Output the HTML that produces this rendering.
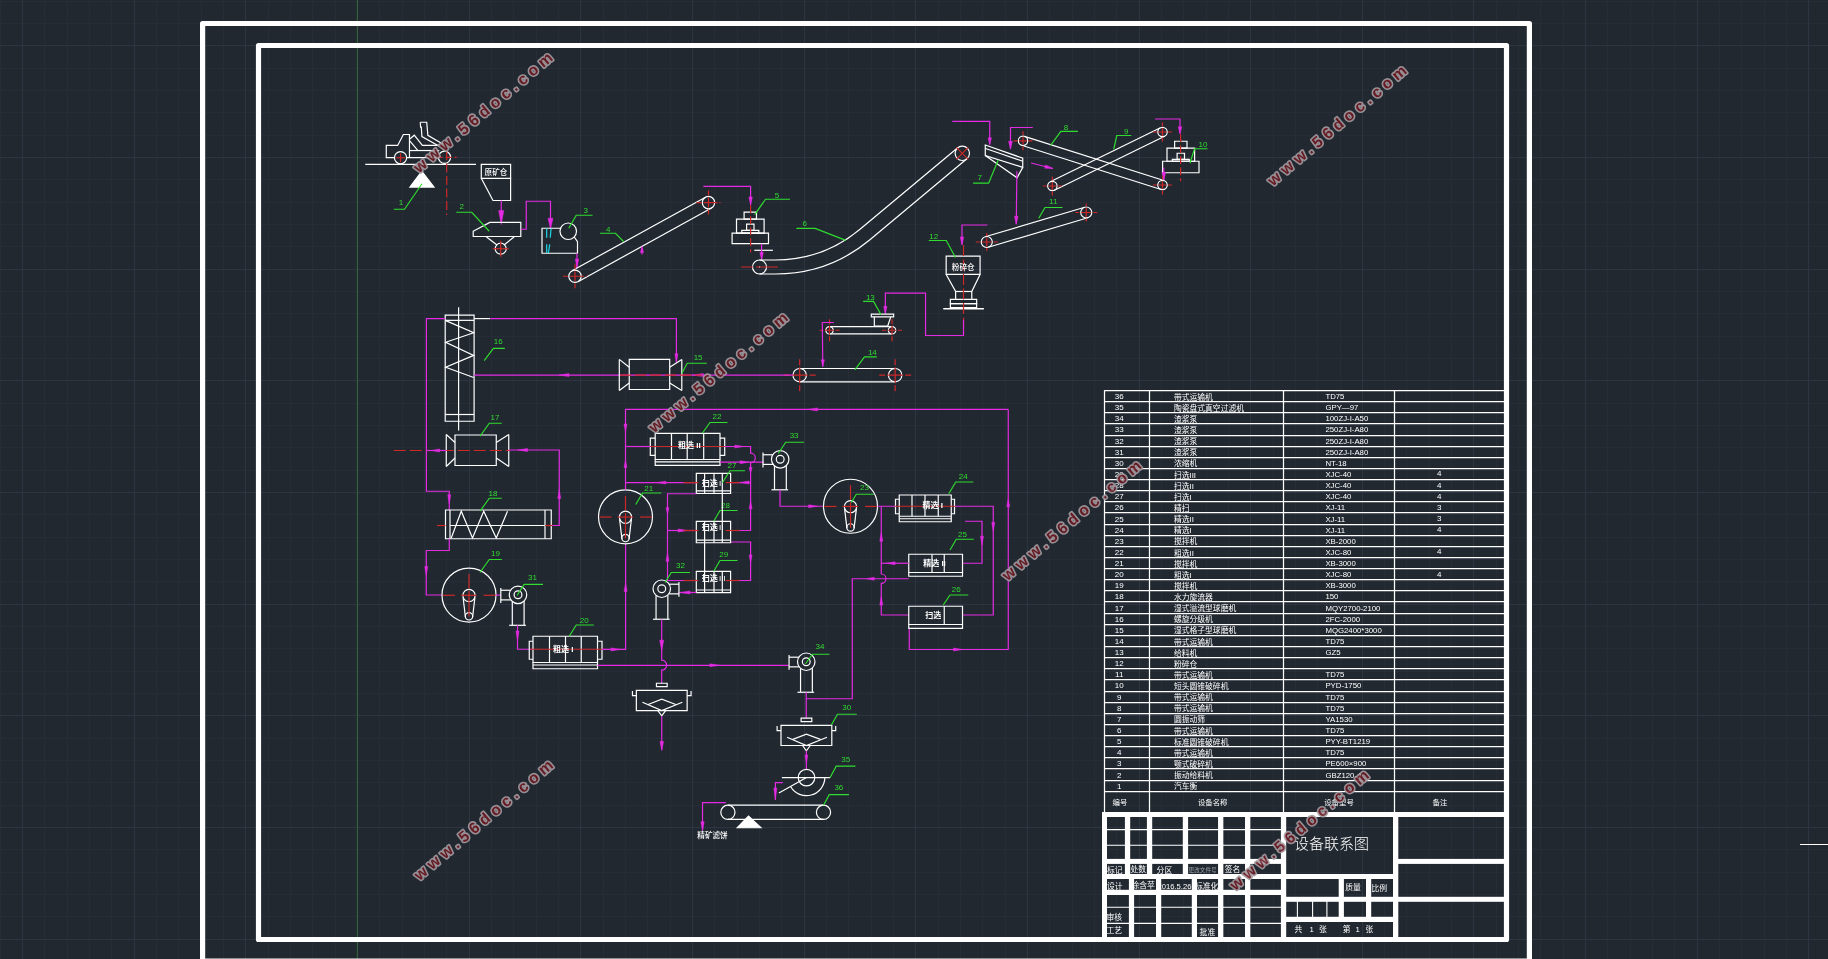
<!DOCTYPE html>
<html lang="zh"><head><meta charset="utf-8"><title>设备联系图</title>
<style>
html,body{margin:0;padding:0;background:#212830;overflow:hidden}
svg{display:block;will-change:transform}
svg text{font-family:"Liberation Sans","Noto Sans CJK SC",sans-serif}
.fl{font-weight:500}
.flb{font-weight:700}
svg path,svg circle{stroke-linecap:butt}
.wm{opacity:.9;font-weight:bold;letter-spacing:4.65px;paint-order:stroke;stroke:#a39ba1;stroke-width:3.2px;stroke-linejoin:round;fill:#6e1a22}
</style></head><body>
<svg width="1828" height="959" viewBox="0 0 1828 959">
<rect width="1828" height="959" fill="#212830"/>
<!-- grid -->
<path d="M0.5 0V959M44.5 0V959M67.5 0V959M89.5 0V959M111.5 0V959M156.5 0V959M178.5 0V959M201.5 0V959M223.5 0V959M268.5 0V959M290.5 0V959M312.5 0V959M335.5 0V959M379.5 0V959M402.5 0V959M424.5 0V959M446.5 0V959M491.5 0V959M513.5 0V959M536.5 0V959M558.5 0V959M603.5 0V959M625.5 0V959M647.5 0V959M670.5 0V959M714.5 0V959M737.5 0V959M759.5 0V959M781.5 0V959M826.5 0V959M848.5 0V959M871.5 0V959M893.5 0V959M938.5 0V959M960.5 0V959M982.5 0V959M1005.5 0V959M1049.5 0V959M1072.5 0V959M1094.5 0V959M1116.5 0V959M1161.5 0V959M1183.5 0V959M1206.5 0V959M1228.5 0V959M1273.5 0V959M1295.5 0V959M1317.5 0V959M1340.5 0V959M1384.5 0V959M1406.5 0V959M1429.5 0V959M1451.5 0V959M1496.5 0V959M1518.5 0V959M1540.5 0V959M1563.5 0V959M1607.5 0V959M1630.5 0V959M1652.5 0V959M1674.5 0V959M1719.5 0V959M1741.5 0V959M1764.5 0V959M1786.5 0V959M0 1.5H1828M0 23.5H1828M0 68.5H1828M0 90.5H1828M0 112.5H1828M0 135.5H1828M0 179.5H1828M0 202.5H1828M0 224.5H1828M0 246.5H1828M0 291.5H1828M0 313.5H1828M0 336.5H1828M0 358.5H1828M0 403.5H1828M0 425.5H1828M0 447.5H1828M0 470.5H1828M0 514.5H1828M0 537.5H1828M0 559.5H1828M0 581.5H1828M0 626.5H1828M0 648.5H1828M0 671.5H1828M0 693.5H1828M0 738.5H1828M0 760.5H1828M0 782.5H1828M0 805.5H1828M0 849.5H1828M0 872.5H1828M0 894.5H1828M0 916.5H1828" stroke="#262d38" fill="none" shape-rendering="crispEdges"/>
<path d="M22.5 0V959M134.5 0V959M245.5 0V959M357.5 0V959M469.5 0V959M580.5 0V959M692.5 0V959M804.5 0V959M915.5 0V959M1027.5 0V959M1139.5 0V959M1250.5 0V959M1362.5 0V959M1473.5 0V959M1585.5 0V959M1697.5 0V959M1808.5 0V959M0 45.5H1828M0 157.5H1828M0 269.5H1828M0 380.5H1828M0 492.5H1828M0 604.5H1828M0 715.5H1828M0 827.5H1828M0 939.5H1828" stroke="#2e3542" fill="none" shape-rendering="crispEdges"/>
<path d="M356.5 0V959" stroke="#1c3627" fill="none" shape-rendering="crispEdges"/><path d="M357.5 0V959" stroke="#3a5c45" fill="none" shape-rendering="crispEdges"/>
<path d="M1800 844.5 L1828 844.5" stroke="#ffffff" fill="none"/>
<!-- frames -->
<rect x="202.6" y="23.5" width="1326.8" height="937.5" fill="none" stroke="#fff" stroke-width="5.2" stroke-linejoin="round"/>
<rect x="258.5" y="45.5" width="1248" height="894" fill="none" stroke="#fff" stroke-width="5.2" stroke-linejoin="round"/>
<!-- equipment table -->
<path d="M1104.25 390.5H1504M1104.25 401.5H1504M1104.25 412.5H1504M1104.25 423.5H1504M1104.25 435.5H1504M1104.25 446.5H1504M1104.25 457.5H1504M1104.25 468.5H1504M1104.25 479.5H1504M1104.25 490.5H1504M1104.25 501.5H1504M1104.25 512.5H1504M1104.25 524.5H1504M1104.25 535.5H1504M1104.25 546.5H1504M1104.25 557.5H1504M1104.25 568.5H1504M1104.25 579.5H1504M1104.25 590.5H1504M1104.25 601.5H1504M1104.25 613.5H1504M1104.25 624.5H1504M1104.25 635.5H1504M1104.25 646.5H1504M1104.25 657.5H1504M1104.25 668.5H1504M1104.25 679.5H1504M1104.25 691.5H1504M1104.25 702.5H1504M1104.25 713.5H1504M1104.25 724.5H1504M1104.25 735.5H1504M1104.25 746.5H1504M1104.25 757.5H1504M1104.25 768.5H1504M1104.25 780.5H1504M1104.25 791.5H1504M1104.5 390.5V813M1149.5 390.5V813M1283.5 390.5V813M1394.5 390.5V813" stroke="#fff" fill="none" stroke-width="1.25"/>
<text x="1119.2" y="399.1" font-size="8" fill="#ffffff" text-anchor="middle">36</text>
<text x="1173.9" y="399.7" font-size="7.8" fill="#ffffff">带式运输机</text>
<text x="1325.4" y="399.1" font-size="7.8" fill="#ffffff">TD75</text>
<text x="1119.2" y="410.23" font-size="8" fill="#ffffff" text-anchor="middle">35</text>
<text x="1173.9" y="410.83" font-size="7.8" fill="#ffffff">陶瓷盘式真空过滤机</text>
<text x="1325.4" y="410.23" font-size="7.8" fill="#ffffff">GPY—97</text>
<text x="1119.2" y="421.36" font-size="8" fill="#ffffff" text-anchor="middle">34</text>
<text x="1173.9" y="421.96" font-size="7.8" fill="#ffffff">渣浆泵</text>
<text x="1325.4" y="421.36" font-size="7.8" fill="#ffffff">100ZJ-I-A50</text>
<text x="1119.2" y="432.49" font-size="8" fill="#ffffff" text-anchor="middle">33</text>
<text x="1173.9" y="433.09" font-size="7.8" fill="#ffffff">渣浆泵</text>
<text x="1325.4" y="432.49" font-size="7.8" fill="#ffffff">250ZJ-I-A80</text>
<text x="1119.2" y="443.62" font-size="8" fill="#ffffff" text-anchor="middle">32</text>
<text x="1173.9" y="444.22" font-size="7.8" fill="#ffffff">渣浆泵</text>
<text x="1325.4" y="443.62" font-size="7.8" fill="#ffffff">250ZJ-I-A80</text>
<text x="1119.2" y="454.75" font-size="8" fill="#ffffff" text-anchor="middle">31</text>
<text x="1173.9" y="455.35" font-size="7.8" fill="#ffffff">渣浆泵</text>
<text x="1325.4" y="454.75" font-size="7.8" fill="#ffffff">250ZJ-I-A80</text>
<text x="1119.2" y="465.88" font-size="8" fill="#ffffff" text-anchor="middle">30</text>
<text x="1173.9" y="466.48" font-size="7.8" fill="#ffffff">浓缩机</text>
<text x="1325.4" y="465.88" font-size="7.8" fill="#ffffff">NT-18</text>
<text x="1119.2" y="477.01" font-size="8" fill="#ffffff" text-anchor="middle">29</text>
<text x="1173.9" y="477.61" font-size="7.8" fill="#ffffff">扫选III</text>
<text x="1325.4" y="477.01" font-size="7.8" fill="#ffffff">XJC-40</text>
<text x="1439.3" y="476.41" font-size="8" fill="#ffffff" text-anchor="middle">4</text>
<text x="1119.2" y="488.14" font-size="8" fill="#ffffff" text-anchor="middle">28</text>
<text x="1173.9" y="488.74" font-size="7.8" fill="#ffffff">扫选II</text>
<text x="1325.4" y="488.14" font-size="7.8" fill="#ffffff">XJC-40</text>
<text x="1439.3" y="487.54" font-size="8" fill="#ffffff" text-anchor="middle">4</text>
<text x="1119.2" y="499.27" font-size="8" fill="#ffffff" text-anchor="middle">27</text>
<text x="1173.9" y="499.87" font-size="7.8" fill="#ffffff">扫选I</text>
<text x="1325.4" y="499.27" font-size="7.8" fill="#ffffff">XJC-40</text>
<text x="1439.3" y="498.67" font-size="8" fill="#ffffff" text-anchor="middle">4</text>
<text x="1119.2" y="510.4" font-size="8" fill="#ffffff" text-anchor="middle">26</text>
<text x="1173.9" y="511" font-size="7.8" fill="#ffffff">精扫</text>
<text x="1325.4" y="510.4" font-size="7.8" fill="#ffffff">XJ-11</text>
<text x="1439.3" y="509.8" font-size="8" fill="#ffffff" text-anchor="middle">3</text>
<text x="1119.2" y="521.53" font-size="8" fill="#ffffff" text-anchor="middle">25</text>
<text x="1173.9" y="522.13" font-size="7.8" fill="#ffffff">精选II</text>
<text x="1325.4" y="521.53" font-size="7.8" fill="#ffffff">XJ-11</text>
<text x="1439.3" y="520.93" font-size="8" fill="#ffffff" text-anchor="middle">3</text>
<text x="1119.2" y="532.66" font-size="8" fill="#ffffff" text-anchor="middle">24</text>
<text x="1173.9" y="533.26" font-size="7.8" fill="#ffffff">精选I</text>
<text x="1325.4" y="532.66" font-size="7.8" fill="#ffffff">XJ-11</text>
<text x="1439.3" y="532.06" font-size="8" fill="#ffffff" text-anchor="middle">4</text>
<text x="1119.2" y="543.79" font-size="8" fill="#ffffff" text-anchor="middle">23</text>
<text x="1173.9" y="544.39" font-size="7.8" fill="#ffffff">搅拌机</text>
<text x="1325.4" y="543.79" font-size="7.8" fill="#ffffff">XB-2000</text>
<text x="1119.2" y="554.92" font-size="8" fill="#ffffff" text-anchor="middle">22</text>
<text x="1173.9" y="555.52" font-size="7.8" fill="#ffffff">粗选II</text>
<text x="1325.4" y="554.92" font-size="7.8" fill="#ffffff">XJC-80</text>
<text x="1439.3" y="554.32" font-size="8" fill="#ffffff" text-anchor="middle">4</text>
<text x="1119.2" y="566.05" font-size="8" fill="#ffffff" text-anchor="middle">21</text>
<text x="1173.9" y="566.65" font-size="7.8" fill="#ffffff">搅拌机</text>
<text x="1325.4" y="566.05" font-size="7.8" fill="#ffffff">XB-3000</text>
<text x="1119.2" y="577.18" font-size="8" fill="#ffffff" text-anchor="middle">20</text>
<text x="1173.9" y="577.78" font-size="7.8" fill="#ffffff">粗选I</text>
<text x="1325.4" y="577.18" font-size="7.8" fill="#ffffff">XJC-80</text>
<text x="1439.3" y="576.58" font-size="8" fill="#ffffff" text-anchor="middle">4</text>
<text x="1119.2" y="588.31" font-size="8" fill="#ffffff" text-anchor="middle">19</text>
<text x="1173.9" y="588.91" font-size="7.8" fill="#ffffff">搅拌机</text>
<text x="1325.4" y="588.31" font-size="7.8" fill="#ffffff">XB-3000</text>
<text x="1119.2" y="599.44" font-size="8" fill="#ffffff" text-anchor="middle">18</text>
<text x="1173.9" y="600.04" font-size="7.8" fill="#ffffff">水力旋流器</text>
<text x="1325.4" y="599.44" font-size="7.8" fill="#ffffff">150</text>
<text x="1119.2" y="610.57" font-size="8" fill="#ffffff" text-anchor="middle">17</text>
<text x="1173.9" y="611.17" font-size="7.8" fill="#ffffff">湿式溢流型球磨机</text>
<text x="1325.4" y="610.57" font-size="7.8" fill="#ffffff">MQY2700-2100</text>
<text x="1119.2" y="621.7" font-size="8" fill="#ffffff" text-anchor="middle">16</text>
<text x="1173.9" y="622.3" font-size="7.8" fill="#ffffff">螺旋分级机</text>
<text x="1325.4" y="621.7" font-size="7.8" fill="#ffffff">2FC-2000</text>
<text x="1119.2" y="632.83" font-size="8" fill="#ffffff" text-anchor="middle">15</text>
<text x="1173.9" y="633.43" font-size="7.8" fill="#ffffff">湿式格子型球磨机</text>
<text x="1325.4" y="632.83" font-size="7.8" fill="#ffffff">MQG2400*3000</text>
<text x="1119.2" y="643.96" font-size="8" fill="#ffffff" text-anchor="middle">14</text>
<text x="1173.9" y="644.56" font-size="7.8" fill="#ffffff">带式运输机</text>
<text x="1325.4" y="643.96" font-size="7.8" fill="#ffffff">TD75</text>
<text x="1119.2" y="655.09" font-size="8" fill="#ffffff" text-anchor="middle">13</text>
<text x="1173.9" y="655.69" font-size="7.8" fill="#ffffff">给料机</text>
<text x="1325.4" y="655.09" font-size="7.8" fill="#ffffff">GZ5</text>
<text x="1119.2" y="666.22" font-size="8" fill="#ffffff" text-anchor="middle">12</text>
<text x="1173.9" y="666.82" font-size="7.8" fill="#ffffff">粉碎仓</text>
<text x="1119.2" y="677.35" font-size="8" fill="#ffffff" text-anchor="middle">11</text>
<text x="1173.9" y="677.95" font-size="7.8" fill="#ffffff">带式运输机</text>
<text x="1325.4" y="677.35" font-size="7.8" fill="#ffffff">TD75</text>
<text x="1119.2" y="688.48" font-size="8" fill="#ffffff" text-anchor="middle">10</text>
<text x="1173.9" y="689.08" font-size="7.8" fill="#ffffff">短头圆锥破碎机</text>
<text x="1325.4" y="688.48" font-size="7.8" fill="#ffffff">PYD-1750</text>
<text x="1119.2" y="699.61" font-size="8" fill="#ffffff" text-anchor="middle">9</text>
<text x="1173.9" y="700.21" font-size="7.8" fill="#ffffff">带式运输机</text>
<text x="1325.4" y="699.61" font-size="7.8" fill="#ffffff">TD75</text>
<text x="1119.2" y="710.74" font-size="8" fill="#ffffff" text-anchor="middle">8</text>
<text x="1173.9" y="711.34" font-size="7.8" fill="#ffffff">带式运输机</text>
<text x="1325.4" y="710.74" font-size="7.8" fill="#ffffff">TD75</text>
<text x="1119.2" y="721.87" font-size="8" fill="#ffffff" text-anchor="middle">7</text>
<text x="1173.9" y="722.47" font-size="7.8" fill="#ffffff">圆振动筛</text>
<text x="1325.4" y="721.87" font-size="7.8" fill="#ffffff">YA1530</text>
<text x="1119.2" y="733" font-size="8" fill="#ffffff" text-anchor="middle">6</text>
<text x="1173.9" y="733.6" font-size="7.8" fill="#ffffff">带式运输机</text>
<text x="1325.4" y="733" font-size="7.8" fill="#ffffff">TD75</text>
<text x="1119.2" y="744.13" font-size="8" fill="#ffffff" text-anchor="middle">5</text>
<text x="1173.9" y="744.73" font-size="7.8" fill="#ffffff">标准圆锥破碎机</text>
<text x="1325.4" y="744.13" font-size="7.8" fill="#ffffff">PYY-BT1219</text>
<text x="1119.2" y="755.26" font-size="8" fill="#ffffff" text-anchor="middle">4</text>
<text x="1173.9" y="755.86" font-size="7.8" fill="#ffffff">带式运输机</text>
<text x="1325.4" y="755.26" font-size="7.8" fill="#ffffff">TD75</text>
<text x="1119.2" y="766.39" font-size="8" fill="#ffffff" text-anchor="middle">3</text>
<text x="1173.9" y="766.99" font-size="7.8" fill="#ffffff">颚式破碎机</text>
<text x="1325.4" y="766.39" font-size="7.8" fill="#ffffff">PE600×900</text>
<text x="1119.2" y="777.52" font-size="8" fill="#ffffff" text-anchor="middle">2</text>
<text x="1173.9" y="778.12" font-size="7.8" fill="#ffffff">振动给料机</text>
<text x="1325.4" y="777.52" font-size="7.8" fill="#ffffff">GBZ120-4</text>
<text x="1119.2" y="788.65" font-size="8" fill="#ffffff" text-anchor="middle">1</text>
<text x="1173.9" y="789.25" font-size="7.8" fill="#ffffff">汽车衡</text>
<text x="1120" y="804.8" font-size="7.4" fill="#ffffff" text-anchor="middle">编号</text>
<text x="1212.7" y="804.8" font-size="7.4" fill="#ffffff" text-anchor="middle">设备名称</text>
<text x="1339" y="804.8" font-size="7.4" fill="#ffffff" text-anchor="middle">设备型号</text>
<text x="1440" y="804.8" font-size="7.4" fill="#ffffff" text-anchor="middle">备注</text>
<!-- title block -->
<text x="1107" y="872.6" font-size="7.8" fill="#ffffff">标记</text>
<text x="1130.4" y="872.2" font-size="7.8" fill="#ffffff">处数</text>
<text x="1156.6" y="873" font-size="7.8" fill="#ffffff">分区</text>
<text x="1188.6" y="872" font-size="5.6" fill="#9aa0a8">更改文件号</text>
<text x="1224.8" y="872" font-size="7.8" fill="#ffffff">签名</text>
<text x="1107" y="889.3" font-size="7.8" fill="#ffffff">设计</text>
<text x="1131.4" y="888.4" font-size="7.8" fill="#ffffff">徐含苹</text>
<text x="1157.6" y="888.6" font-size="7.6" fill="#ffffff">2016.5.26</text>
<text x="1195" y="889" font-size="7.8" fill="#ffffff">标准化</text>
<text x="1106.4" y="919.8" font-size="7.8" fill="#ffffff">审核</text>
<text x="1106.4" y="933.2" font-size="7.8" fill="#ffffff">工艺</text>
<text x="1199.6" y="935.2" font-size="7.8" fill="#ffffff">批准</text>
<text x="1345.2" y="890" font-size="7.8" fill="#ffffff">质量</text>
<text x="1371.4" y="891" font-size="7.8" fill="#ffffff">比例</text>
<text x="1294.6" y="931.8" font-size="7.8" fill="#ffffff">共</text>
<text x="1309.4" y="931.8" font-size="7.8" fill="#ffffff">1</text>
<text x="1319" y="931.8" font-size="7.8" fill="#ffffff">张</text>
<text x="1342.8" y="931.8" font-size="7.8" fill="#ffffff">第</text>
<text x="1355.4" y="931.8" font-size="7.8" fill="#ffffff">1</text>
<text x="1365.6" y="931.8" font-size="7.8" fill="#ffffff">张</text>
<text x="1294" y="849" font-size="15" fill="#fff" font-weight="300" style="font-family:'Noto Sans CJK SC',sans-serif">设备联系图</text>
<path d="M1104 829.6H1283M1104 845.2H1283M1104 907.3H1283M1104 923.4H1283M1297.4 899V919M1312.6 899V919M1326.9 899V919" stroke="#fff" fill="none" stroke-width="1.1"/>
<rect x="1102" y="812" width="407" height="5" fill="#fff"/>
<rect x="1102" y="858.9" width="184" height="5" fill="#fff"/>
<rect x="1102" y="874" width="296" height="5" fill="#fff"/>
<rect x="1102" y="889.8" width="184" height="5.2" fill="#fff"/>
<rect x="1286" y="896.8" width="223" height="5" fill="#fff"/>
<rect x="1286" y="916.8" width="112" height="5.2" fill="#fff"/>
<rect x="1396" y="858.9" width="113" height="5" fill="#fff"/>
<rect x="1102" y="812" width="5" height="130" fill="#fff"/>
<rect x="1124.9" y="812" width="5.3" height="67" fill="#fff"/>
<rect x="1146.9" y="812" width="5.3" height="67" fill="#fff"/>
<rect x="1182.8" y="812" width="5.3" height="67" fill="#fff"/>
<rect x="1128.9" y="874" width="5.2" height="68" fill="#fff"/>
<rect x="1156" y="874" width="5.2" height="68" fill="#fff"/>
<rect x="1191.8" y="874" width="5.2" height="68" fill="#fff"/>
<rect x="1218.05" y="812" width="5.3" height="130" fill="#fff"/>
<rect x="1245" y="812" width="5.3" height="130" fill="#fff"/>
<rect x="1280.9" y="812" width="5.3" height="130" fill="#fff"/>
<rect x="1393" y="812" width="5.3" height="130" fill="#fff"/>
<rect x="1338.7" y="874" width="5.2" height="48" fill="#fff"/>
<rect x="1366" y="874" width="5.2" height="48" fill="#fff"/>
<g stroke-width="1.2">
<!-- flow top row -->
<path d="M365.25 164.47 L476.02 164.47" stroke="#ffffff" fill="none"/>
<path d="M394.59 157.72 L386.27 157.72 L386.27 145.46 L397.65 145.46 L403.35 134.52 L409.47 134.52 L409.47 157.72" stroke="#ffffff" fill="none"/>
<path d="M406.67 157.72 L438.37 157.72" stroke="#ffffff" fill="none"/>
<path d="M409.47 150.54 L439.25 150.54" stroke="#ffffff" fill="none"/>
<path d="M409.47 139.33 L414.29 135.22 L422.35 145.46 L441.44 145.46" stroke="#ffffff" fill="none"/>
<path d="M409.74 140.82 L417.97 150.54" stroke="#ffffff" fill="none"/>
<path d="M420.25 122.26 L426.73 122.26 L427.86 135.39 L443.19 144.33" stroke="#ffffff" fill="none"/>
<path d="M420.25 122.26 L420.6 127.08 L421.3 127.08 L421.91 136.53 L439.25 146.34" stroke="#ffffff" fill="none"/>
<circle cx="400.54" cy="157.72" r="6.1" stroke="#ffffff" fill="none"/>
<circle cx="444.5" cy="157.29" r="6.1" stroke="#ffffff" fill="none"/>
<path d="M396.04 157.72 L405.04 157.72" stroke="#cc2828" fill="none"/>
<path d="M400.54 153.22 L400.54 162.22" stroke="#cc2828" fill="none"/>
<path d="M436.69 157.29 L456.69 157.29" stroke="#cc2828" fill="none" stroke-dasharray="6 3"/>
<path d="M446.7 151 L446.7 215" stroke="#cc2828" fill="none" stroke-dasharray="9 3.5"/>
<path d="M421.73 171.3 L409.91 187.06 L433.99 187.06Z" stroke="#ffffff" fill="#ffffff"/>
<path d="M422 183.75 L404.5 209.25 L393.75 209.25" stroke="#2fdc2f" fill="none"/>
<text x="401" y="205" font-size="8" fill="#2fdc2f" text-anchor="middle">1</text>
<path d="M481.28 164.47 L510.61 164.47 L510.61 178.3 L481.28 178.3Z" stroke="#ffffff" fill="none"/>
<path d="M481.28 178.3 L493 200.5 L510.61 200.5 L510.61 178.3" stroke="#ffffff" fill="none"/>
<text x="495.94" y="174.6" font-size="7.6" fill="#ffffff" text-anchor="middle" class="fl">原矿仓</text>
<path d="M501.25 200.5 L501.25 222.5" stroke="#e32be3" fill="none"/>
<path d="M501.25 224.6 L498.65 210.6 L503.85 210.6Z" fill="#e32be3" stroke="#e32be3" stroke-width="0.5"/>
<path d="M473.2 231.2 L489.8 222.4 L520.8 222.4 L520.8 236.5 L473.2 236.5Z" stroke="#ffffff" fill="none"/>
<path d="M486.25 236.75 L497 245" stroke="#ffffff" fill="none"/>
<path d="M514.25 236.75 L504 245" stroke="#ffffff" fill="none"/>
<circle cx="500.7" cy="248.7" r="5.5" stroke="#ffffff" fill="none"/>
<path d="M492.7 248.7 L508.7 248.7" stroke="#cc2828" fill="none"/>
<path d="M500.7 240.7 L500.7 256.7" stroke="#cc2828" fill="none"/>
<path d="M456.25 212.25 L471.75 212.25 L489.25 231.25" stroke="#2fdc2f" fill="none"/>
<text x="461.75" y="209.25" font-size="8" fill="#2fdc2f" text-anchor="middle">2</text>
<path d="M520.75 229.25 L526.25 229.25 L526.25 201.25 L550.5 201.25 L550.5 228.75" stroke="#e32be3" fill="none"/>
<path d="M550.5 228.75 L548 218.25 L553 218.25Z" fill="#e32be3" stroke="#e32be3" stroke-width="0.5"/>
<path d="M561.25 228.25 L542 228.25 L542 253.25 L577.5 253.25 L577.5 241.75 L574.25 237" stroke="#ffffff" fill="none"/>
<circle cx="568.25" cy="231.25" r="8.25" stroke="#ffffff" fill="none"/>
<path d="M546.7 228.5 L546.7 237.7" stroke="#1fd9e6" fill="none"/>
<path d="M551.1 228.5 L550.2 237.7" stroke="#1fd9e6" fill="none"/>
<path d="M546.7 244.3 L546.7 253" stroke="#1fd9e6" fill="none"/>
<path d="M549.75 244.3 L548.4 253" stroke="#1fd9e6" fill="none"/>
<path d="M568.75 228.25 L576.25 215.25 L592.5 215.25" stroke="#2fdc2f" fill="none"/>
<text x="585.75" y="213" font-size="8" fill="#2fdc2f" text-anchor="middle">3</text>
<path d="M577 253.25 L577 268" stroke="#e32be3" fill="none"/>
<path d="M577 268 L575.3 259 L578.7 259Z" fill="#e32be3" stroke="#e32be3" stroke-width="0.5"/>
<circle cx="575" cy="276.25" r="6.2" stroke="#ffffff" fill="none"/>
<circle cx="708.49" cy="202.59" r="6.2" stroke="#ffffff" fill="none"/>
<path d="M578 281.68 L711.49 208.02" stroke="#ffffff" fill="none"/>
<path d="M572 270.82 L705.49 197.16" stroke="#ffffff" fill="none"/>
<path d="M563 276.25 L587 276.25" stroke="#cc2828" fill="none" stroke-dasharray="5 2 14 2 5"/>
<path d="M575 264.25 L575 288.25" stroke="#cc2828" fill="none" stroke-dasharray="5 2 10 2 5"/>
<path d="M696.49 202.59 L720.49 202.59" stroke="#cc2828" fill="none" stroke-dasharray="5 2 14 2 5"/>
<path d="M708.49 190.59 L708.49 214.59" stroke="#cc2828" fill="none" stroke-dasharray="5 2 10 2 5"/>
<path d="M642 254.5 L642 247.5" stroke="#e32be3" fill="none"/>
<path d="M642 246.5 L643.6 252.5 L640.4 252.5Z" fill="#e32be3" stroke="#e32be3" stroke-width="0.5"/>
<path d="M600 233.25 L615.5 233.25 L623.75 241.75" stroke="#2fdc2f" fill="none"/>
<text x="608.25" y="232" font-size="8" fill="#2fdc2f" text-anchor="middle">4</text>
<path d="M744.1 212.2 L756.5 212.2 L756.5 219.1 L744.1 219.1Z" stroke="#ffffff" fill="none"/>
<path d="M736.5 219.1 L764.1 219.1 L764.1 233.1 L736.5 233.1Z" stroke="#ffffff" fill="none"/>
<path d="M732.1 233.1 L768.5 233.1 L768.5 243.7 L732.1 243.7Z" stroke="#ffffff" fill="none"/>
<path d="M741.8 230.3 L758.8 230.3 L758.8 233.1 L741.8 233.1Z" stroke="#ffffff" fill="none"/>
<path d="M746.6 224.2 L754 224.2 L754 230.3 L746.6 230.3Z" stroke="#ffffff" fill="none"/>
<path d="M750.6 205.2 L750.6 252.2" stroke="#cc2828" fill="none" stroke-dasharray="8 3"/>
<path d="M703.3 186.3 L750.6 186.3 L750.6 205" stroke="#e32be3" fill="none"/>
<path d="M750.6 205 L748.8 197 L752.4 197Z" fill="#e32be3" stroke="#e32be3" stroke-width="0.5"/>
<path d="M754.3 250.3 L772.9 250.3" stroke="#ffffff" fill="none"/>
<path d="M761.6 243.7 L761.6 259.5" stroke="#e32be3" fill="none"/>
<path d="M761.6 259.5 L759.8 252.5 L763.4 252.5Z" fill="#e32be3" stroke="#e32be3" stroke-width="0.5"/>
<path d="M754.73 214.59 L765.5 199.26 L790.02 199.26" stroke="#2fdc2f" fill="none"/>
<text x="777.06" y="197.95" font-size="8" fill="#2fdc2f" text-anchor="middle">5</text>
<path d="M1174.6 141.25 L1187 141.25 L1187 148.15 L1174.6 148.15Z" stroke="#ffffff" fill="none"/>
<path d="M1167 148.15 L1194.6 148.15 L1194.6 161.25 L1167 161.25Z" stroke="#ffffff" fill="none"/>
<path d="M1162.6 161.25 L1199 161.25 L1199 172.75 L1162.6 172.75Z" stroke="#ffffff" fill="none"/>
<path d="M1172.3 159.35 L1189.3 159.35 L1189.3 161.25 L1172.3 161.25Z" stroke="#ffffff" fill="none"/>
<path d="M1177.1 153.25 L1184.5 153.25 L1184.5 159.35 L1177.1 159.35Z" stroke="#ffffff" fill="none"/>
<path d="M1180.6 134.25 L1180.6 181.25" stroke="#cc2828" fill="none" stroke-dasharray="8 3"/>
<path d="M1155 119 L1180 119 L1180 133.75" stroke="#e32be3" fill="none"/>
<path d="M1180 133.75 L1178.2 126.75 L1181.8 126.75Z" fill="#e32be3" stroke="#e32be3" stroke-width="0.5"/>
<path d="M1163.75 167.5 L1163.75 180.5" stroke="#e32be3" fill="none"/>
<path d="M1163.75 180.5 L1161.95 172.5 L1165.55 172.5Z" fill="#e32be3" stroke="#e32be3" stroke-width="0.5"/>
<path d="M1190 163.25 L1194.5 148.75 L1207.5 148.75" stroke="#2fdc2f" fill="none"/>
<text x="1203" y="146.75" font-size="8" fill="#2fdc2f" text-anchor="middle">10</text>
<circle cx="759.5" cy="267" r="7" stroke="#ffffff" fill="none"/>
<circle cx="962.3" cy="153.3" r="7.2" stroke="#ffffff" fill="none"/>
<circle cx="759.5" cy="267" r="0.7" fill="#fff"/>
<path d="M759.5 260H775Q823.1 260 860 229.2L957.7 147.8" stroke="#ffffff" fill="none"/>
<path d="M759.5 274H775.5Q828.7 274 869.6 240L966.9 158.8" stroke="#ffffff" fill="none"/>
<path d="M741 267 L781 267" stroke="#cc2828" fill="none" stroke-dasharray="12 3 22 3"/>
<path d="M956.3 147.3 L968.3 159.3" stroke="#cc2828" fill="none"/>
<path d="M956.3 159.3 L968.3 147.3" stroke="#cc2828" fill="none"/>
<path d="M796.32 228.34 L815.15 228.34 L845.8 240.42" stroke="#2fdc2f" fill="none"/>
<text x="804.82" y="225.53" font-size="8" fill="#2fdc2f" text-anchor="middle">6</text>
<path d="M985.27 145.03 L1022.75 158.16 L1022.75 167.36 L985.27 155.53Z" stroke="#ffffff" fill="none"/>
<path d="M985.53 148.53 L1022.75 161.23" stroke="#ffffff" fill="none"/>
<path d="M985.27 155.53 L1017.06 177.86 L1022.75 167.36" stroke="#ffffff" fill="none"/>
<path d="M952.26 121.38 L989.74 121.38 L989.74 144.59" stroke="#e32be3" fill="none"/>
<path d="M989.74 144.85 L988.04 137.85 L991.44 137.85Z" fill="#e32be3" stroke="#e32be3" stroke-width="0.5"/>
<path d="M1032.82 127.51 L1010.49 127.51 L1010.49 148.97" stroke="#e32be3" fill="none"/>
<path d="M1010.49 149.23 L1008.59 141.23 L1012.39 141.23Z" fill="#e32be3" stroke="#e32be3" stroke-width="0.5"/>
<path d="M1031.07 162.98 L1052.96 168.49" stroke="#e32be3" fill="none"/>
<path d="M1052.96 168.49 L1044.79 168.18 L1045.62 164.89Z" fill="#e32be3" stroke="#e32be3" stroke-width="0.5"/>
<path d="M1016.88 171.3 L1016.25 224.25" stroke="#e32be3" fill="none"/>
<path d="M1016.25 224.25 L1014.45 216.25 L1018.05 216.25Z" fill="#e32be3" stroke="#e32be3" stroke-width="0.5"/>
<path d="M998.23 159.91 L988.6 183.12 L973.1 183.12" stroke="#2fdc2f" fill="none"/>
<text x="979.84" y="180.05" font-size="8" fill="#2fdc2f" text-anchor="middle">7</text>
<circle cx="1023.01" cy="140.82" r="4.7" stroke="#ffffff" fill="none"/>
<circle cx="1162.5" cy="185" r="4.7" stroke="#ffffff" fill="none"/>
<path d="M1021.59 145.3 L1161.08 189.48" stroke="#ffffff" fill="none"/>
<path d="M1024.43 136.34 L1163.92 180.52" stroke="#ffffff" fill="none"/>
<circle cx="1052.35" cy="186.01" r="4.7" stroke="#ffffff" fill="none"/>
<circle cx="1162.5" cy="132" r="4.7" stroke="#ffffff" fill="none"/>
<path d="M1054.42 190.23 L1164.57 136.22" stroke="#ffffff" fill="none"/>
<path d="M1050.28 181.79 L1160.43 127.78" stroke="#ffffff" fill="none"/>
<path d="M1013.51 140.82 L1032.51 140.82" stroke="#cc2828" fill="none" stroke-dasharray="4 1.5 8 1.5 4"/>
<path d="M1023.01 131.32 L1023.01 150.32" stroke="#cc2828" fill="none" stroke-dasharray="4 1.5 8 1.5 4"/>
<path d="M1153 185 L1172 185" stroke="#cc2828" fill="none" stroke-dasharray="4 1.5 8 1.5 4"/>
<path d="M1162.5 175.5 L1162.5 194.5" stroke="#cc2828" fill="none" stroke-dasharray="4 1.5 8 1.5 4"/>
<path d="M1042.85 186.01 L1061.85 186.01" stroke="#cc2828" fill="none" stroke-dasharray="4 1.5 8 1.5 4"/>
<path d="M1052.35 176.51 L1052.35 195.51" stroke="#cc2828" fill="none" stroke-dasharray="4 1.5 8 1.5 4"/>
<path d="M1153 132 L1172 132" stroke="#cc2828" fill="none" stroke-dasharray="4 1.5 8 1.5 4"/>
<path d="M1162.5 122.5 L1162.5 141.5" stroke="#cc2828" fill="none" stroke-dasharray="4 1.5 8 1.5 4"/>
<path d="M1050.77 145.03 L1060.84 131.28 L1077.92 131.28" stroke="#2fdc2f" fill="none"/>
<text x="1066.09" y="129.96" font-size="8" fill="#2fdc2f" text-anchor="middle">8</text>
<path d="M1113.75 149.25 L1116.75 135.5 L1131.25 135.5" stroke="#2fdc2f" fill="none"/>
<text x="1126.25" y="133.5" font-size="8" fill="#2fdc2f" text-anchor="middle">9</text>
<circle cx="986.75" cy="242" r="5.5" stroke="#ffffff" fill="none"/>
<circle cx="1086.25" cy="212.5" r="5.5" stroke="#ffffff" fill="none"/>
<path d="M988.31 247.27 L1087.81 217.77" stroke="#ffffff" fill="none"/>
<path d="M985.19 236.73 L1084.69 207.23" stroke="#ffffff" fill="none"/>
<path d="M975.75 242 L997.75 242" stroke="#cc2828" fill="none" stroke-dasharray="4 2 10 2 4"/>
<path d="M986.75 233 L986.75 251" stroke="#cc2828" fill="none" stroke-dasharray="3 1.5 9 1.5 3"/>
<path d="M1075.25 212.5 L1097.25 212.5" stroke="#cc2828" fill="none" stroke-dasharray="4 2 10 2 4"/>
<path d="M1086.25 203.5 L1086.25 221.5" stroke="#cc2828" fill="none" stroke-dasharray="3 1.5 9 1.5 3"/>
<path d="M1038.75 218.25 L1045 207.5 L1062.5 207.5" stroke="#2fdc2f" fill="none"/>
<text x="1053.25" y="204.25" font-size="8" fill="#2fdc2f" text-anchor="middle">11</text>
<path d="M987.5 225 L962 225 L962 244.5" stroke="#e32be3" fill="none"/>
<path d="M962 245 L960.3 237 L963.7 237Z" fill="#e32be3" stroke="#e32be3" stroke-width="0.5"/>
<path d="M946.17 256.03 L980.07 256.03 L980.07 274.42 L946.17 274.42Z" stroke="#ffffff" fill="none"/>
<path d="M946.17 274.42 L955.63 291.49 L955.63 299.38" stroke="#ffffff" fill="none"/>
<path d="M980.07 274.42 L971.79 291.49 L971.79 299.38" stroke="#ffffff" fill="none"/>
<path d="M955.63 291.49 L971.79 291.49" stroke="#ffffff" fill="none"/>
<path d="M950.38 299.38 L976.65 299.38 L976.65 303.71 L950.38 303.71Z" stroke="#ffffff" fill="none"/>
<path d="M950.38 303.71 L976.65 303.71 L976.65 307.65 L950.38 307.65Z" stroke="#ffffff" fill="none"/>
<path d="M943.28 308.7 L983.88 308.7" stroke="#ffffff" fill="none" stroke-width="1.6"/>
<path d="M963.51 245 L963.51 335" stroke="#cc2828" fill="none" stroke-dasharray="11 3.5"/>
<text x="963.21" y="269.6" font-size="7.6" fill="#ffffff" text-anchor="middle" class="fl">粉碎仓</text>
<path d="M928.75 240.5 L946.25 240.5 L955.5 257.5" stroke="#2fdc2f" fill="none"/>
<text x="933.75" y="239" font-size="8" fill="#2fdc2f" text-anchor="middle">12</text>
<path d="M963.51 319.87 L963.51 335.5 L925.55 335.5 L925.55 293.2 L885.35 293.2 L885.35 313.56" stroke="#e32be3" fill="none"/>
<path d="M885.35 313.83 L883.65 306.33 L887.05 306.33Z" fill="#e32be3" stroke="#e32be3" stroke-width="0.5"/>
<path d="M871.3 314.22 L893.63 314.22 L893.63 316.85 L871.3 316.85Z" stroke="#ffffff" fill="none"/>
<path d="M874.32 316.85 L874.32 326.04 L887.72 326.04 L890.74 316.85" stroke="#ffffff" fill="none"/>
<circle cx="829.52" cy="330.25" r="3.7" stroke="#ffffff" fill="none"/>
<circle cx="892.05" cy="330.25" r="3.7" stroke="#ffffff" fill="none"/>
<path d="M829.52 333.95 L892.05 333.95" stroke="#ffffff" fill="none"/>
<path d="M829.52 326.55 L892.05 326.55" stroke="#ffffff" fill="none"/>
<path d="M819.52 330.25 L839.52 330.25" stroke="#cc2828" fill="none" stroke-dasharray="4 1.5 9 1.5 4"/>
<path d="M829.52 319.25 L829.52 341.25" stroke="#cc2828" fill="none" stroke-dasharray="5 1.5 9 1.5 5"/>
<path d="M882.05 330.25 L902.05 330.25" stroke="#cc2828" fill="none" stroke-dasharray="4 1.5 9 1.5 4"/>
<path d="M892.05 319.25 L892.05 341.25" stroke="#cc2828" fill="none" stroke-dasharray="5 1.5 9 1.5 5"/>
<path d="M863.15 301.35 L873.53 301.35 L880.89 314.48" stroke="#2fdc2f" fill="none"/>
<text x="870.38" y="300.43" font-size="8" fill="#2fdc2f" text-anchor="middle">13</text>
<path d="M833.86 322.5 L822.3 322.5 L822.81 366.42" stroke="#e32be3" fill="none"/>
<path d="M822.81 366.77 L821.21 359.77 L824.41 359.77Z" fill="#e32be3" stroke="#e32be3" stroke-width="0.5"/>
<circle cx="799.68" cy="375.18" r="6.7" stroke="#ffffff" fill="none"/>
<circle cx="895.15" cy="375.18" r="6.7" stroke="#ffffff" fill="none"/>
<path d="M799.68 381.88 L895.15 381.88" stroke="#ffffff" fill="none"/>
<path d="M799.68 368.48 L895.15 368.48" stroke="#ffffff" fill="none"/>
<path d="M783.68 375.18 L815.68 375.18" stroke="#cc2828" fill="none" stroke-dasharray="6 2 16 2 6"/>
<path d="M799.68 359.18 L799.68 391.18" stroke="#cc2828" fill="none" stroke-dasharray="6 2 16 2 6"/>
<path d="M879.15 375.18 L911.15 375.18" stroke="#cc2828" fill="none" stroke-dasharray="6 2 16 2 6"/>
<path d="M895.15 359.18 L895.15 391.18" stroke="#cc2828" fill="none" stroke-dasharray="6 2 16 2 6"/>
<path d="M854.86 369.92 L864.49 356.78 L876.76 356.78" stroke="#2fdc2f" fill="none"/>
<text x="872.38" y="355.38" font-size="8" fill="#2fdc2f" text-anchor="middle">14</text>
<!-- flow middle -->
<path d="M445.2 315.1 L474.1 315.1 L474.1 421.25 L445.2 421.25Z" stroke="#ffffff" fill="none"/>
<path d="M445.2 320.35 L474.1 320.35" stroke="#ffffff" fill="none"/>
<path d="M445.2 414.5 L474.1 414.5" stroke="#ffffff" fill="none"/>
<path d="M458.6 307.2 L458.6 430.5" stroke="#ffffff" fill="none"/>
<path d="M445.2 320.35 L473.7 332.7 L445.7 342.3 L473.7 355.4 L445.7 367.3 L473.7 377.5" stroke="#ffffff" fill="none"/>
<path d="M474.1 318.6 L490.1 318.6" stroke="#ffffff" fill="none"/>
<path d="M490.1 318.6 L676.4 318.6 L676.4 362" stroke="#e32be3" fill="none"/>
<path d="M676.4 363 L674.9 353.7 L677.9 353.7Z" fill="#e32be3" stroke="#e32be3" stroke-width="0.5"/>
<path d="M445.2 318.6 L426.4 318.6 L426.4 491.25 L449.25 491.25 L449.25 510" stroke="#e32be3" fill="none"/>
<path d="M449.25 504 L447.75 494.7 L450.75 494.7Z" fill="#e32be3" stroke="#e32be3" stroke-width="0.5"/>
<path d="M474.1 375.1 L793 375.1" stroke="#e32be3" fill="none"/>
<path d="M559 375.1 L569 373.6 L569 376.6Z" fill="#e32be3" stroke="#e32be3" stroke-width="0.5"/>
<path d="M692.8 375.1 L703.3 373.6 L703.3 376.6Z" fill="#e32be3" stroke="#e32be3" stroke-width="0.5"/>
<path d="M484.18 360.68 L493.37 348.46 L504.8 348.46" stroke="#2fdc2f" fill="none"/>
<text x="498.2" y="344.1" font-size="8" fill="#2fdc2f" text-anchor="middle">16</text>
<path d="M629.25 359.4 L669.7 359.4 L669.7 389.5 L629.25 389.5Z" stroke="#ffffff" fill="none"/>
<path d="M619.3 359.4 L619.3 390.6" stroke="#ffffff" fill="none"/>
<path d="M619.3 359.4 L629.25 367.3" stroke="#ffffff" fill="none"/>
<path d="M619.3 390.6 L629.25 383.1" stroke="#ffffff" fill="none"/>
<path d="M681.8 359.4 L681.8 390.6" stroke="#ffffff" fill="none"/>
<path d="M681.8 359.4 L669.7 367.3" stroke="#ffffff" fill="none"/>
<path d="M681.8 390.6 L669.7 383.1" stroke="#ffffff" fill="none"/>
<path d="M620 375.1 L702 375.1" stroke="#cc2828" fill="none" stroke-dasharray="11 4"/>
<path d="M681.8 373.42 L687.23 363.27 L706.85 363.27" stroke="#2fdc2f" fill="none"/>
<text x="698.09" y="360.21" font-size="8" fill="#2fdc2f" text-anchor="middle">15</text>
<path d="M455 435 L496.25 435 L496.25 465.5 L455 465.5Z" stroke="#ffffff" fill="none"/>
<path d="M446.25 434.5 L446.25 466.5" stroke="#ffffff" fill="none"/>
<path d="M446.25 434.5 L455 442.5" stroke="#ffffff" fill="none"/>
<path d="M446.25 466.5 L455 458" stroke="#ffffff" fill="none"/>
<path d="M508.75 434.5 L508.75 466.5" stroke="#ffffff" fill="none"/>
<path d="M508.75 434.5 L496.25 442.5" stroke="#ffffff" fill="none"/>
<path d="M508.75 466.5 L496.25 458" stroke="#ffffff" fill="none"/>
<path d="M393.75 450.5 L510 450.5" stroke="#cc2828" fill="none" stroke-dasharray="12 4"/>
<path d="M508.75 450 L559.25 450 L559.25 525.5 L551.25 525.5" stroke="#e32be3" fill="none"/>
<path d="M517.5 450 L527.5 448.5 L527.5 451.5Z" fill="#e32be3" stroke="#e32be3" stroke-width="0.5"/>
<path d="M559.25 489.5 L560.75 498.5 L557.75 498.5Z" fill="#e32be3" stroke="#e32be3" stroke-width="0.5"/>
<path d="M446.25 450.5 L426.4 450.5" stroke="#e32be3" fill="none"/>
<path d="M432 450.5 L439.5 448.9 L439.5 452.1Z" fill="#e32be3" stroke="#e32be3" stroke-width="0.5"/>
<path d="M480 436.25 L489.25 423.25 L501.75 423.25" stroke="#2fdc2f" fill="none"/>
<text x="495" y="419.9" font-size="8" fill="#2fdc2f" text-anchor="middle">17</text>
<path d="M445.5 510 L551.25 510 L551.25 538.75 L445.5 538.75Z" stroke="#ffffff" fill="none"/>
<path d="M450 510 L450 538.75" stroke="#ffffff" fill="none"/>
<path d="M545 510 L545 538.75" stroke="#ffffff" fill="none"/>
<path d="M450 525.5 L545 525.5" stroke="#ffffff" fill="none"/>
<path d="M437 525.5 L445.5 525.5" stroke="#cc2828" fill="none"/>
<path d="M545 525.5 L552.5 525.5" stroke="#cc2828" fill="none"/>
<path d="M451.25 538 L461.25 511.25 L472.5 538 L483.75 511.25 L496.25 538 L507.5 511.25" stroke="#ffffff" fill="none"/>
<path d="M480 511.25 L489.25 498.25 L501.75 498.25" stroke="#2fdc2f" fill="none"/>
<text x="493" y="495.9" font-size="8" fill="#2fdc2f" text-anchor="middle">18</text>
<path d="M449.25 538.75 L449.25 550.5 L426.25 550.5 L426.25 595 L442 595" stroke="#e32be3" fill="none"/>
<path d="M426.25 575.5 L424.75 566.5 L427.75 566.5Z" fill="#e32be3" stroke="#e32be3" stroke-width="0.5"/>
<circle cx="469" cy="595.1" r="27" stroke="#ffffff" fill="none"/>
<circle cx="469" cy="595.5" r="6.1" stroke="#ffffff" fill="none"/>
<circle cx="469" cy="616.3" r="3.7" stroke="#ffffff" fill="none"/>
<path d="M463.1 597.5 L465.4 617" stroke="#ffffff" fill="none"/>
<path d="M474.9 597.5 L472.6 617" stroke="#ffffff" fill="none"/>
<path d="M469 574.1 L469 588.6" stroke="#cc2828" fill="none"/>
<path d="M469 591.1 L469 616.6" stroke="#cc2828" fill="none"/>
<path d="M443 595.3 L455 595.3" stroke="#cc2828" fill="none"/>
<path d="M461 595.3 L476.5 595.3" stroke="#cc2828" fill="none"/>
<path d="M483.5 595.3 L495.5 595.3" stroke="#cc2828" fill="none"/>
<path d="M496 595.1 L500.5 595.1" stroke="#e32be3" fill="none"/>
<path d="M480 572.5 L489.25 559.5 L501.75 559.5" stroke="#2fdc2f" fill="none"/>
<text x="495.5" y="556.15" font-size="8" fill="#2fdc2f" text-anchor="middle">19</text>
<circle cx="518" cy="594.8" r="8.75" stroke="#ffffff" fill="none"/>
<circle cx="518" cy="594.8" r="3.9" stroke="#ffffff" fill="none"/>
<path d="M500.8 590.25 L510.7 590.25" stroke="#ffffff" fill="none"/>
<path d="M500.8 599.9 L511 599.9" stroke="#ffffff" fill="none"/>
<path d="M500.8 588.1 L500.8 602.9" stroke="#ffffff" fill="none"/>
<path d="M512.3 601.6 L512.3 625.3" stroke="#ffffff" fill="none"/>
<path d="M524.1 601.2 L524.1 625.3" stroke="#ffffff" fill="none"/>
<path d="M509.2 625.3 L525.9 625.3" stroke="#ffffff" fill="none"/>
<path d="M517.1 595.5 L524.1 584.4 L543 584.4" stroke="#2fdc2f" fill="none"/>
<text x="532.5" y="580" font-size="8" fill="#2fdc2f" text-anchor="middle">31</text>
<path d="M517.5 625.3 L517.5 649.25 L533 649.25" stroke="#e32be3" fill="none"/>
<path d="M517.5 641 L516 631 L519 631Z" fill="#e32be3" stroke="#e32be3" stroke-width="0.5"/>
<path d="M533 636.25 L597.5 636.25 L597.5 662.5 L533 662.5Z" stroke="#ffffff" fill="none"/>
<path d="M549.5 636.25 L549.5 662.5" stroke="#ffffff" fill="none"/>
<path d="M565.5 636.25 L565.5 662.5" stroke="#ffffff" fill="none"/>
<path d="M581.25 636.25 L581.25 662.5" stroke="#ffffff" fill="none"/>
<path d="M533 641.25 L529.25 641.25 L529.25 659.25 L533 659.25" stroke="#ffffff" fill="none"/>
<path d="M597.5 641.25 L602 641.25 L602 659.25 L597.5 659.25" stroke="#ffffff" fill="none"/>
<path d="M533 662.5 L533 668.75 L597.5 668.75 L597.5 662.5" stroke="#ffffff" fill="none"/>
<path d="M533 665 L597.5 665" stroke="#ffffff" fill="none"/>
<path d="M530 649.25 L605 649.25" stroke="#cc2828" fill="none"/>
<text x="563.25" y="651.8" font-size="8" fill="#ffffff" text-anchor="middle" class="flb">粗选 I</text>
<path d="M569.25 636.25 L576.25 625 L593.75 625" stroke="#2fdc2f" fill="none"/>
<text x="584.25" y="622.9" font-size="8" fill="#2fdc2f" text-anchor="middle">20</text>
<path d="M602 649.4 L625.6 649.4 L625.6 543.75" stroke="#e32be3" fill="none"/>
<path d="M620.6 649.4 L611 650.9 L611 647.9Z" fill="#e32be3" stroke="#e32be3" stroke-width="0.5"/>
<path d="M625.6 582.5 L627.1 591.5 L624.1 591.5Z" fill="#e32be3" stroke="#e32be3" stroke-width="0.5"/>
<path d="M597.5 665.3 L788.75 665.3" stroke="#e32be3" fill="none"/>
<path d="M719.5 665.3 L709.9 666.8 L709.9 663.8Z" fill="#e32be3" stroke="#e32be3" stroke-width="0.5"/>
<circle cx="625.5" cy="516.85" r="27" stroke="#ffffff" fill="none"/>
<circle cx="625.5" cy="517.25" r="6.1" stroke="#ffffff" fill="none"/>
<circle cx="625.5" cy="538.05" r="3.7" stroke="#ffffff" fill="none"/>
<path d="M619.6 519.25 L621.9 538.75" stroke="#ffffff" fill="none"/>
<path d="M631.4 519.25 L629.1 538.75" stroke="#ffffff" fill="none"/>
<path d="M625.5 495.85 L625.5 510.35" stroke="#cc2828" fill="none"/>
<path d="M625.5 512.85 L625.5 538.35" stroke="#cc2828" fill="none"/>
<path d="M599.5 517.05 L611.5 517.05" stroke="#cc2828" fill="none"/>
<path d="M617.5 517.05 L633 517.05" stroke="#cc2828" fill="none"/>
<path d="M640 517.05 L652 517.05" stroke="#cc2828" fill="none"/>
<path d="M635.75 504.5 L642.5 493 L661.25 493" stroke="#2fdc2f" fill="none"/>
<text x="648.75" y="491.15" font-size="8" fill="#2fdc2f" text-anchor="middle">21</text>
<path d="M1008.25 409.4 L625.5 409.4 L625.5 489.75" stroke="#e32be3" fill="none"/>
<path d="M808 409.4 L817.5 407.9 L817.5 410.9Z" fill="#e32be3" stroke="#e32be3" stroke-width="0.5"/>
<path d="M625.5 432 L624 424 L627 424Z" fill="#e32be3" stroke="#e32be3" stroke-width="0.5"/>
<path d="M625.5 460 L627 467.5 L624 467.5Z" fill="#e32be3" stroke="#e32be3" stroke-width="0.5"/>
<path d="M1008.25 409.4 L1008.25 649.5 L909.25 649.5 L909.25 628.5" stroke="#e32be3" fill="none"/>
<path d="M1008.25 498.75 L1009.75 506.75 L1006.75 506.75Z" fill="#e32be3" stroke="#e32be3" stroke-width="0.5"/>
<path d="M962.5 649.5 L953.5 651 L953.5 648Z" fill="#e32be3" stroke="#e32be3" stroke-width="0.5"/>
<path d="M655.2 433.3 L720 433.3 L720 459.5 L655.2 459.5Z" stroke="#ffffff" fill="none"/>
<path d="M671.5 433.3 L671.5 459.5" stroke="#ffffff" fill="none"/>
<path d="M687.2 433.3 L687.2 459.5" stroke="#ffffff" fill="none"/>
<path d="M703.7 433.3 L703.7 459.5" stroke="#ffffff" fill="none"/>
<path d="M655.2 438.2 L650.3 438.2 L650.3 455.4 L655.2 455.4" stroke="#ffffff" fill="none"/>
<path d="M720 438.2 L724.7 438.2 L724.7 455.4 L720 455.4" stroke="#ffffff" fill="none"/>
<path d="M655.2 459.5 L655.2 465.4 L720 465.4 L720 459.5" stroke="#ffffff" fill="none"/>
<path d="M655.2 461.9 L720 461.9" stroke="#ffffff" fill="none"/>
<path d="M644.7 446.5 L726.1 446.5" stroke="#cc2828" fill="none"/>
<text x="689.3" y="448.4" font-size="8" fill="#ffffff" text-anchor="middle" class="flb">粗选 II</text>
<path d="M702.5 433 L710 422.5 L727.5 422.5" stroke="#2fdc2f" fill="none"/>
<text x="717" y="419.15" font-size="8" fill="#2fdc2f" text-anchor="middle">22</text>
<path d="M625.5 446.5 L650.3 446.5" stroke="#e32be3" fill="none"/>
<path d="M724.7 446.5H750.6V453.2A4.7 4.7 0 0 1 750.6 462.6V530.5H730" stroke="#e32be3" fill="none"/>
<path d="M743.6 446.5 L734.9 448 L734.9 445Z" fill="#e32be3" stroke="#e32be3" stroke-width="0.5"/>
<path d="M720 462.2 L763.8 462.2" stroke="#e32be3" fill="none"/>
<path d="M748.9 462.2 L740.1 463.7 L740.1 460.7Z" fill="#e32be3" stroke="#e32be3" stroke-width="0.5"/>
<path d="M750.6 473.1 L749 467.6 L752.2 467.6Z" fill="#e32be3" stroke="#e32be3" stroke-width="0.5"/>
<path d="M750.6 501.25 L752.1 508.75 L749.1 508.75Z" fill="#e32be3" stroke="#e32be3" stroke-width="0.5"/>
<path d="M730 542 L750.6 542 L750.6 580.5 L730 580.5" stroke="#e32be3" fill="none"/>
<path d="M750.6 562.5 L749.1 555 L752.1 555Z" fill="#e32be3" stroke="#e32be3" stroke-width="0.5"/>
<circle cx="780.2" cy="459.3" r="8.75" stroke="#ffffff" fill="none"/>
<circle cx="780.2" cy="459.3" r="3.9" stroke="#ffffff" fill="none"/>
<path d="M763 454.75 L772.9 454.75" stroke="#ffffff" fill="none"/>
<path d="M763 464.4 L773.2 464.4" stroke="#ffffff" fill="none"/>
<path d="M763 452.6 L763 467.4" stroke="#ffffff" fill="none"/>
<path d="M774.5 466.1 L774.5 489.8" stroke="#ffffff" fill="none"/>
<path d="M786.3 465.7 L786.3 489.8" stroke="#ffffff" fill="none"/>
<path d="M771.4 489.8 L788.1 489.8" stroke="#ffffff" fill="none"/>
<path d="M778.31 453.47 L785.67 442.26 L804.06 442.26" stroke="#2fdc2f" fill="none"/>
<text x="794.08" y="438.16" font-size="8" fill="#2fdc2f" text-anchor="middle">33</text>
<path d="M780 489.8 L780 506.25 L823.75 506.25" stroke="#e32be3" fill="none"/>
<path d="M817.5 506.25 L808.7 507.75 L808.7 504.75Z" fill="#e32be3" stroke="#e32be3" stroke-width="0.5"/>
<path d="M696.3 473.3 L730.6 473.3 L730.6 493.5 L696.3 493.5Z" stroke="#ffffff" fill="none"/>
<path d="M704.6 473.3 L704.6 493.5" stroke="#ffffff" fill="none"/>
<path d="M714 473.3 L714 493.5" stroke="#ffffff" fill="none"/>
<path d="M722.3 473.3 L722.3 493.5" stroke="#ffffff" fill="none"/>
<path d="M696.3 490.9 L730.6 490.9" stroke="#ffffff" fill="none"/>
<text x="701.8" y="486.3" font-size="8" fill="#ffffff" class="flb">扫选<tspan dx="1.3" font-weight="400">I</tspan></text>
<path d="M696.3 521.3 L730.6 521.3 L730.6 542.75 L696.3 542.75Z" stroke="#ffffff" fill="none"/>
<path d="M704.6 521.3 L704.6 542.75" stroke="#ffffff" fill="none"/>
<path d="M714 521.3 L714 542.75" stroke="#ffffff" fill="none"/>
<path d="M722.3 521.3 L722.3 542.75" stroke="#ffffff" fill="none"/>
<path d="M696.3 540.15 L730.6 540.15" stroke="#ffffff" fill="none"/>
<text x="701.8" y="530.2" font-size="8" fill="#ffffff" class="flb">扫选<tspan dx="1.3" font-weight="400">II</tspan></text>
<path d="M696.3 571.3 L730.6 571.3 L730.6 592.6 L696.3 592.6Z" stroke="#ffffff" fill="none"/>
<path d="M704.6 571.3 L704.6 592.6" stroke="#ffffff" fill="none"/>
<path d="M714 571.3 L714 592.6" stroke="#ffffff" fill="none"/>
<path d="M722.3 571.3 L722.3 592.6" stroke="#ffffff" fill="none"/>
<path d="M696.3 590 L730.6 590" stroke="#ffffff" fill="none"/>
<text x="701.8" y="581.2" font-size="8" fill="#ffffff" class="flb">扫选<tspan dx="1.3" font-weight="400">III</tspan></text>
<path d="M722.5 482.5 L730 470.75 L745 470.75" stroke="#2fdc2f" fill="none"/>
<text x="732" y="468.4" font-size="8" fill="#2fdc2f" text-anchor="middle">27</text>
<path d="M713.75 521.25 L720 510.5 L737.5 510.5" stroke="#2fdc2f" fill="none"/>
<text x="725.5" y="507.9" font-size="8" fill="#2fdc2f" text-anchor="middle">28</text>
<path d="M713.75 571.25 L720 560.5 L737.5 560.5" stroke="#2fdc2f" fill="none"/>
<text x="723.75" y="557.15" font-size="8" fill="#2fdc2f" text-anchor="middle">29</text>
<path d="M625.5 482.6 L696.25 482.6" stroke="#e32be3" fill="none"/>
<path d="M656.2 482.6 L665.8 481.2 L665.8 484Z" fill="#e32be3" stroke="#e32be3" stroke-width="0.5"/>
<path d="M730 482.6 L750.6 482.6" stroke="#e32be3" fill="none"/>
<path d="M739.4 482.6 L749 481.1 L749 484.1Z" fill="#e32be3" stroke="#e32be3" stroke-width="0.5"/>
<path d="M696.25 493.75 L667.5 493.75 L667.5 580.5 L684 580.5" stroke="#e32be3" fill="none"/>
<path d="M667.5 514.3 L666 507.7 L669 507.7Z" fill="#e32be3" stroke="#e32be3" stroke-width="0.5"/>
<path d="M667.5 552.5 L669 561.2 L666 561.2Z" fill="#e32be3" stroke="#e32be3" stroke-width="0.5"/>
<path d="M667.5 530.5 L696.25 530.5" stroke="#e32be3" fill="none"/>
<path d="M687.7 530.5 L678.1 532 L678.1 529Z" fill="#e32be3" stroke="#e32be3" stroke-width="0.5"/>
<path d="M704.6 542.75 L704.6 571.3" stroke="#ffffff" fill="none"/>
<path d="M722.3 493.5 L722.3 521.3" stroke="#ffffff" fill="none"/>
<path d="M696.25 592.5 L678.75 592.5" stroke="#e32be3" fill="none"/>
<path d="M680 592.5 L690 591 L690 594Z" fill="#e32be3" stroke="#e32be3" stroke-width="0.5"/>
<circle cx="661.75" cy="588.75" r="8.75" stroke="#ffffff" fill="none"/>
<circle cx="661.75" cy="588.75" r="3.9" stroke="#ffffff" fill="none"/>
<path d="M678.95 584.2 L669.05 584.2" stroke="#ffffff" fill="none"/>
<path d="M678.95 593.85 L668.75 593.85" stroke="#ffffff" fill="none"/>
<path d="M678.95 582.05 L678.95 596.85" stroke="#ffffff" fill="none"/>
<path d="M656.05 595.55 L656.05 619.25" stroke="#ffffff" fill="none"/>
<path d="M667.85 595.15 L667.85 619.25" stroke="#ffffff" fill="none"/>
<path d="M652.95 619.25 L669.65 619.25" stroke="#ffffff" fill="none"/>
<path d="M665 582.5 L671.25 572.5 L690 572.5" stroke="#2fdc2f" fill="none"/>
<text x="680.5" y="568.4" font-size="8" fill="#2fdc2f" text-anchor="middle">32</text>
<path d="M661.7 619.4V660.2A5 5 0 0 1 661.7 670.2V683.25" stroke="#e32be3" fill="none"/>
<path d="M661.7 650.7 L659.7 640.2 L663.7 640.2Z" fill="#e32be3" stroke="#e32be3" stroke-width="0.5"/>
<path d="M683.5 482.6 L698.2 482.6" stroke="#cc2828" fill="none"/>
<path d="M725.8 482.6 L739.5 482.6" stroke="#cc2828" fill="none"/>
<path d="M683.5 530.5 L698.2 530.5" stroke="#cc2828" fill="none"/>
<path d="M725.8 530.5 L739.5 530.5" stroke="#cc2828" fill="none"/>
<path d="M683.5 580.5 L698.2 580.5" stroke="#cc2828" fill="none"/>
<path d="M725.8 580.5 L739.5 580.5" stroke="#cc2828" fill="none"/>
<!-- flow lower / right -->
<path d="M656.45 683.25 L667.15 683.25 L667.15 686.65 L656.45 686.65Z" stroke="#ffffff" fill="none"/>
<path d="M636.35 690.45 L687.15 690.45 L687.15 710.55 L636.35 710.55Z" stroke="#ffffff" fill="none"/>
<path d="M632.45 691.05 L632.45 695.65 L636.35 695.65" stroke="#ffffff" fill="none"/>
<path d="M691.05 691.05 L691.05 695.65 L687.15 695.65" stroke="#ffffff" fill="none"/>
<path d="M642.45 702.25 L661.75 710.55 L682.35 702.25" stroke="#ffffff" fill="none"/>
<path d="M648.15 704.45 L661.75 699.15 L675.75 704.45" stroke="#ffffff" fill="none"/>
<path d="M657.85 710.55 L661.75 715.85 L665.65 710.55" stroke="#ffffff" fill="none"/>
<path d="M661.75 716 L661.75 750" stroke="#e32be3" fill="none"/>
<path d="M661.75 750.5 L659.95 741.5 L663.55 741.5Z" fill="#e32be3" stroke="#e32be3" stroke-width="0.5"/>
<circle cx="806.25" cy="661.75" r="8.75" stroke="#ffffff" fill="none"/>
<circle cx="806.25" cy="661.75" r="3.9" stroke="#ffffff" fill="none"/>
<path d="M789.05 657.2 L798.95 657.2" stroke="#ffffff" fill="none"/>
<path d="M789.05 666.85 L799.25 666.85" stroke="#ffffff" fill="none"/>
<path d="M789.05 655.05 L789.05 669.85" stroke="#ffffff" fill="none"/>
<path d="M800.55 668.55 L800.55 692.25" stroke="#ffffff" fill="none"/>
<path d="M812.35 668.15 L812.35 692.25" stroke="#ffffff" fill="none"/>
<path d="M797.45 692.25 L814.15 692.25" stroke="#ffffff" fill="none"/>
<path d="M805.5 663.75 L812.5 654.25 L829.5 654.25" stroke="#2fdc2f" fill="none"/>
<text x="820" y="649.15" font-size="8" fill="#2fdc2f" text-anchor="middle">34</text>
<path d="M806.25 692.3 L806.25 718.2" stroke="#e32be3" fill="none"/>
<path d="M806.25 698.75 L852.3 698.75 L852.3 578.75 L908.75 578.75" stroke="#e32be3" fill="none"/>
<path d="M866.25 578.75 L874.25 577.25 L874.25 580.25Z" fill="#e32be3" stroke="#e32be3" stroke-width="0.5"/>
<path d="M801.1 718.2 L811.8 718.2 L811.8 721.6 L801.1 721.6Z" stroke="#ffffff" fill="none"/>
<path d="M781 725.4 L831.8 725.4 L831.8 745.5 L781 745.5Z" stroke="#ffffff" fill="none"/>
<path d="M777.1 726 L777.1 730.6 L781 730.6" stroke="#ffffff" fill="none"/>
<path d="M835.7 726 L835.7 730.6 L831.8 730.6" stroke="#ffffff" fill="none"/>
<path d="M787.1 737.2 L806.4 745.5 L827 737.2" stroke="#ffffff" fill="none"/>
<path d="M792.8 739.4 L806.4 734.1 L820.4 739.4" stroke="#ffffff" fill="none"/>
<path d="M802.5 745.5 L806.4 750.8 L810.3 745.5" stroke="#ffffff" fill="none"/>
<path d="M831.37 724.96 L837.5 714.27 L856.76 714.27" stroke="#2fdc2f" fill="none"/>
<text x="846.69" y="710.08" font-size="8" fill="#2fdc2f" text-anchor="middle">30</text>
<path d="M806.4 750.8 L806.4 769.2" stroke="#e32be3" fill="none"/>
<path d="M806.4 763.5 L805 755 L807.8 755Z" fill="#e32be3" stroke="#e32be3" stroke-width="0.5"/>
<circle cx="806.5" cy="777.6" r="8.3" stroke="#ffffff" fill="none"/>
<path d="M781.9 777.6 L830.1 777.6" stroke="#ffffff" fill="none"/>
<path d="M824.85 777.58A18.4 18.4 0 0 1 790.7 786.78" stroke="#ffffff" fill="none"/>
<path d="M806.5 777.6 L778.88 792.91" stroke="#ffffff" fill="none"/>
<path d="M830.11 777.58 L836.23 766.2 L855.5 766.2" stroke="#2fdc2f" fill="none"/>
<text x="845.75" y="762.15" font-size="8" fill="#2fdc2f" text-anchor="middle">35</text>
<path d="M782.82 782.57 L775.38 782.57 L775.38 799.91" stroke="#e32be3" fill="none"/>
<path d="M775.38 799.91 L773.88 787.91 L776.88 787.91Z" fill="#e32be3" stroke="#e32be3" stroke-width="0.5"/>
<circle cx="727.9" cy="812.3" r="7.1" stroke="#ffffff" fill="none"/>
<circle cx="823.5" cy="812.3" r="7.1" stroke="#ffffff" fill="none"/>
<path d="M727.9 819.4 L823.5 819.4" stroke="#ffffff" fill="none"/>
<path d="M727.9 805.2 L823.5 805.2" stroke="#ffffff" fill="none"/>
<path d="M748.49 816.11 L737.29 827.76 L760.93 827.76Z" stroke="#ffffff" fill="#ffffff"/>
<path d="M725.9 802.54 L702.52 802.54 L702.52 830.12" stroke="#e32be3" fill="none"/>
<path d="M702.52 830.74 L700.82 821.74 L704.22 821.74Z" fill="#e32be3" stroke="#e32be3" stroke-width="0.5"/>
<path d="M823.54 805.34 L829.23 794.66 L848.93 794.66" stroke="#2fdc2f" fill="none"/>
<text x="838.86" y="790.12" font-size="8" fill="#2fdc2f" text-anchor="middle">36</text>
<text x="712.5" y="837.6" font-size="7.6" fill="#ffffff" text-anchor="middle" class="fl">精矿滤饼</text>
<circle cx="850.5" cy="506.25" r="27" stroke="#ffffff" fill="none"/>
<circle cx="850.5" cy="506.65" r="6.1" stroke="#ffffff" fill="none"/>
<circle cx="850.5" cy="527.45" r="3.7" stroke="#ffffff" fill="none"/>
<path d="M844.6 508.65 L846.9 528.15" stroke="#ffffff" fill="none"/>
<path d="M856.4 508.65 L854.1 528.15" stroke="#ffffff" fill="none"/>
<path d="M850.5 485.25 L850.5 499.75" stroke="#cc2828" fill="none"/>
<path d="M850.5 502.25 L850.5 527.75" stroke="#cc2828" fill="none"/>
<path d="M824.5 506.45 L836.5 506.45" stroke="#cc2828" fill="none"/>
<path d="M842.5 506.45 L858 506.45" stroke="#cc2828" fill="none"/>
<path d="M865 506.45 L877 506.45" stroke="#cc2828" fill="none"/>
<path d="M851.25 502.5 L856.25 494.25 L873.75 494.25" stroke="#2fdc2f" fill="none"/>
<text x="864.5" y="490.4" font-size="8" fill="#2fdc2f" text-anchor="middle">23</text>
<path d="M877.5 506.25H895.5M954.5 506.25H993.25V615H962.5" stroke="#e32be3" fill="none"/>
<path d="M993.25 531.25 L991.75 522.45 L994.75 522.45Z" fill="#e32be3" stroke="#e32be3" stroke-width="0.5"/>
<path d="M881.25 506.25V574A4.7 4.7 0 0 1 881.25 583.4V615H908.75" stroke="#e32be3" fill="none"/>
<path d="M881.25 532.5 L882.75 541.3 L879.75 541.3Z" fill="#e32be3" stroke="#e32be3" stroke-width="0.5"/>
<path d="M881.25 596.25 L882.75 605.05 L879.75 605.05Z" fill="#e32be3" stroke="#e32be3" stroke-width="0.5"/>
<path d="M899.25 495 L951.25 495 L951.25 516.25 L899.25 516.25Z" stroke="#ffffff" fill="none"/>
<path d="M912 495 L912 516.25" stroke="#ffffff" fill="none"/>
<path d="M925 495 L925 516.25" stroke="#ffffff" fill="none"/>
<path d="M938.25 495 L938.25 516.25" stroke="#ffffff" fill="none"/>
<path d="M899.25 499.25 L895.5 499.25 L895.5 513.75 L899.25 513.75" stroke="#ffffff" fill="none"/>
<path d="M951.25 499.25 L954.5 499.25 L954.5 513.75 L951.25 513.75" stroke="#ffffff" fill="none"/>
<path d="M899.25 516.25 L899.25 521.75 L951.25 521.75 L951.25 516.25" stroke="#ffffff" fill="none"/>
<path d="M899.25 518.75 L951.25 518.75" stroke="#ffffff" fill="none"/>
<path d="M895 506.25 L955 506.25" stroke="#cc2828" fill="none"/>
<text x="932.7" y="507.9" font-size="8" fill="#ffffff" text-anchor="middle" class="flb">精选 I</text>
<path d="M948.75 493.75 L955.75 482 L973.25 482" stroke="#2fdc2f" fill="none"/>
<text x="963.25" y="479.15" font-size="8" fill="#2fdc2f" text-anchor="middle">24</text>
<path d="M965 521.25 L982 521.25 L982 563.25 L962.5 563.25" stroke="#e32be3" fill="none"/>
<path d="M982 545 L980.5 536.2 L983.5 536.2Z" fill="#e32be3" stroke="#e32be3" stroke-width="0.5"/>
<path d="M908.75 554.25 L962.5 554.25 L962.5 572.5 L908.75 572.5Z" stroke="#ffffff" fill="none"/>
<path d="M932 554.25 L932 572.5" stroke="#ffffff" fill="none"/>
<path d="M944.25 554.25 L944.25 572.5" stroke="#ffffff" fill="none"/>
<path d="M908.75 572.5 L908.75 576.25 L962.5 576.25 L962.5 572.5" stroke="#ffffff" fill="none"/>
<text x="934.5" y="565.8" font-size="8" fill="#ffffff" text-anchor="middle" class="flb">精选 II</text>
<path d="M950 550 L956.25 539.25 L973.75 539.25" stroke="#2fdc2f" fill="none"/>
<text x="962.5" y="537.15" font-size="8" fill="#2fdc2f" text-anchor="middle">25</text>
<path d="M908.75 563.25 L881.25 563.25" stroke="#e32be3" fill="none"/>
<path d="M886.25 563.25 L895.05 561.75 L895.05 564.75Z" fill="#e32be3" stroke="#e32be3" stroke-width="0.5"/>
<path d="M908.75 606.25 L962.5 606.25 L962.5 624.5 L908.75 624.5Z" stroke="#ffffff" fill="none"/>
<path d="M944.25 606.25 L944.25 624.5" stroke="#ffffff" fill="none"/>
<path d="M908.75 624.5 L908.75 628.3 L962.5 628.3 L962.5 624.5" stroke="#ffffff" fill="none"/>
<text x="933.25" y="617.5" font-size="8" fill="#ffffff" text-anchor="middle" class="flb">扫选</text>
<path d="M943.25 605 L950 595 L968.25 595" stroke="#2fdc2f" fill="none"/>
<text x="956.25" y="592.15" font-size="8" fill="#2fdc2f" text-anchor="middle">26</text>
</g>
<!-- watermarks -->
<text class="wm" x="418.9" y="173.4" font-size="15.5" transform="rotate(-40.2 418.9 173.4)">www.56doc.com</text>
<text class="wm" x="1272.9" y="186.4" font-size="15.5" transform="rotate(-40.2 1272.9 186.4)">www.56doc.com</text>
<text class="wm" x="654.2" y="433.3" font-size="15.5" transform="rotate(-40.2 654.2 433.3)">www.56doc.com</text>
<text class="wm" x="1007.6" y="581.3" font-size="15.5" transform="rotate(-40.2 1007.6 581.3)">www.56doc.com</text>
<text class="wm" x="419.4" y="881.0" font-size="15.5" transform="rotate(-40.2 419.4 881.0)">www.56doc.com</text>
<text class="wm" x="1235.2" y="890.9" font-size="15.5" transform="rotate(-40.2 1235.2 890.9)">www.56doc.com</text>
</svg>
</body></html>
